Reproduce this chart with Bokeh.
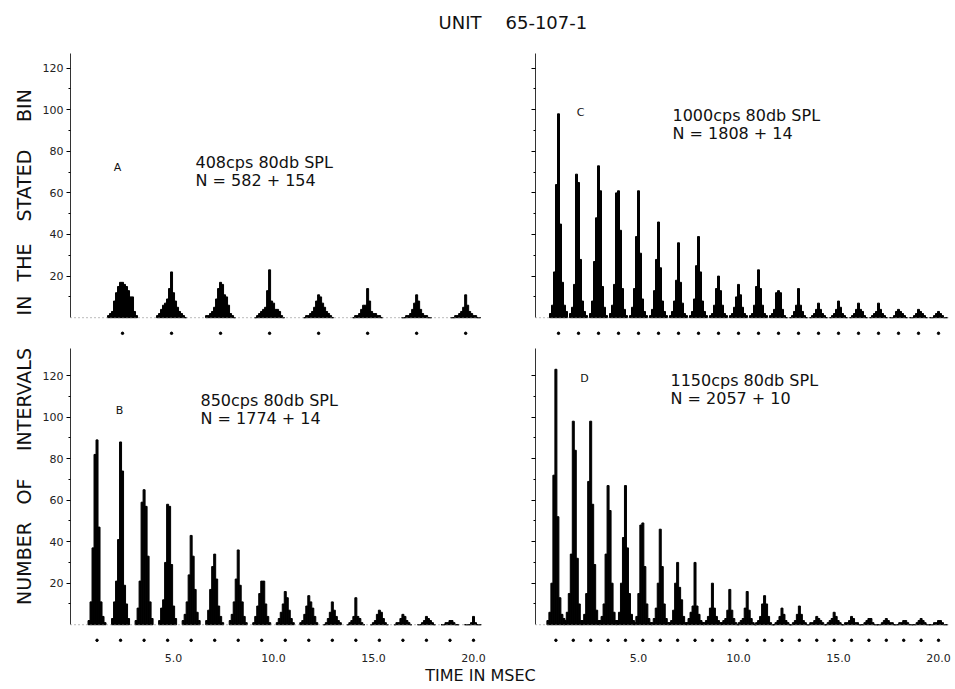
import math
from bokeh.plotting import figure
from bokeh.models import Range1d, FixedTicker, Span
from bokeh.layouts import column, row
from bokeh.embed import file_html
from bokeh.resources import INLINE
from bokeh.core.properties import value

FONT = "DejaVu Sans"

# ---------------- data ----------------
title_words = ["UNIT", "65-107-1"]
y_title_words = ["NUMBER", "OF", "INTERVALS", "IN", "THE", "STATED", "BIN"]
x_title = "TIME IN MSEC"

y_tick_values = [20, 40, 60, 80, 100, 120]
y_minor_values = [10, 30, 50, 70, 90, 110]
x_tick_values = [5, 10, 15, 20]
x_tick_labels = ["5.0", "10.0", "15.0", "20.0"]

bin_ms = 0.1  # histogram bin width (ms)

# Panel A : 408 cps
A_letter = "A"
A_freq = 408
A_line1 = "408cps  80db SPL"
A_line2 = "N = 582 + 154"
A_peaks = [
    [1, 2, 3, 8, 12, 15, 17, 17, 16, 15, 13, 10, 10, 3, 1],
    [1, 2, 4, 6, 7, 9, 14, 22, 12, 8, 5, 3, 2, 1, 0],
    [1, 1, 2, 3, 5, 9, 14, 17, 16, 11, 10, 6, 2, 1, 0],
    [0, 1, 2, 3, 4, 5, 13, 23, 8, 7, 4, 4, 3, 1, 0],
    [0, 1, 1, 2, 3, 5, 8, 11, 10, 7, 5, 3, 2, 1, 0],
    [0, 1, 1, 2, 4, 6, 6, 14, 8, 3, 2, 2, 1, 1, 0],
    [0, 0, 1, 1, 2, 4, 7, 11, 8, 4, 2, 1, 1, 0, 0],
    [0, 0, 1, 1, 2, 3, 5, 11, 6, 3, 2, 1, 1, 0, 0],
]

# Panel B : 850 cps
B_letter = "B"
B_freq = 850
B_line1 = "850cps  80db SPL"
B_line2 = "N = 1774 + 14"
B_peaks = [
    [2, 11, 37, 82, 89, 47, 11, 4, 1],
    [3, 11, 21, 41, 88, 74, 19, 10, 3],
    [2, 8, 21, 59, 65, 57, 33, 11, 3],
    [2, 8, 12, 30, 58, 57, 29, 9, 3],
    [2, 5, 11, 24, 43, 33, 17, 6, 2],
    [2, 7, 17, 28, 34, 22, 9, 4, 1],
    [2, 5, 11, 22, 36, 19, 11, 4, 1],
    [1, 4, 9, 15, 21, 21, 10, 4, 1],
    [1, 3, 6, 10, 16, 13, 7, 3, 1],
    [1, 2, 5, 9, 14, 11, 8, 4, 1],
    [0, 1, 3, 6, 11, 7, 4, 2, 1],
    [0, 1, 2, 4, 13, 4, 3, 1, 0],
    [0, 1, 2, 5, 7, 6, 3, 1, 0],
    [0, 1, 1, 3, 5, 4, 2, 1, 0],
    [0, 0, 1, 2, 4, 3, 2, 1, 0],
    [0, 0, 1, 1, 2, 2, 1, 0, 0],
    [0, 0, 0, 1, 4, 1, 0, 0, 0],
]

# Panel C : 1000 cps
C_letter = "C"
C_freq = 1000
C_line1 = "1000cps  80db SPL"
C_line2 = "N = 1808 + 14"
C_peaks = [
    [2, 6, 22, 64, 98, 45, 17, 6, 3],
    [2, 5, 16, 69, 65, 28, 8, 3, 1],
    [2, 8, 27, 48, 73, 61, 15, 5, 1],
    [2, 6, 16, 60, 61, 42, 14, 4, 1],
    [1, 5, 14, 39, 61, 31, 9, 3, 1],
    [1, 4, 13, 28, 46, 24, 8, 3, 1],
    [1, 3, 8, 18, 36, 17, 7, 2, 1],
    [1, 3, 9, 25, 39, 22, 8, 3, 1],
    [1, 2, 6, 14, 20, 13, 6, 2, 1],
    [1, 2, 5, 10, 16, 11, 5, 2, 1],
    [1, 2, 6, 15, 23, 14, 6, 2, 1],
    [1, 2, 4, 12, 13, 12, 4, 1, 0],
    [0, 1, 3, 6, 14, 6, 3, 1, 0],
    [0, 1, 2, 4, 7, 4, 2, 1, 0],
    [0, 1, 2, 4, 8, 5, 2, 1, 0],
    [0, 1, 2, 4, 7, 4, 3, 1, 0],
    [0, 1, 2, 3, 7, 4, 2, 1, 0],
    [0, 0, 1, 3, 4, 3, 2, 1, 0],
    [0, 0, 1, 2, 4, 3, 2, 1, 0],
    [0, 0, 1, 2, 3, 2, 1, 0, 0],
]

# Panel D : 1150 cps
D_letter = "D"
D_freq = 1150
D_line1 = "1150cps 80db SPL"
D_line2 = "N = 2057 + 10"
D_peaks = [
    [2, 6, 20, 72, 123, 52, 13, 5, 3],
    [2, 6, 15, 34, 98, 84, 32, 10, 2],
    [2, 5, 15, 69, 98, 58, 29, 7, 2],
    [2, 4, 10, 34, 67, 55, 20, 6, 2],
    [2, 6, 20, 42, 67, 37, 15, 5, 2],
    [1, 4, 15, 48, 49, 28, 10, 3, 1],
    [1, 3, 8, 20, 46, 28, 10, 3, 1],
    [1, 2, 7, 20, 30, 18, 12, 4, 1],
    [1, 3, 6, 9, 30, 9, 5, 2, 1],
    [1, 2, 4, 8, 20, 8, 4, 2, 1],
    [1, 2, 3, 7, 17, 7, 3, 1, 0],
    [1, 2, 3, 8, 16, 7, 3, 1, 0],
    [1, 2, 4, 10, 14, 10, 4, 1, 0],
    [0, 1, 2, 4, 8, 5, 2, 1, 0],
    [0, 1, 2, 5, 9, 5, 2, 1, 0],
    [0, 1, 1, 2, 4, 3, 2, 1, 0],
    [0, 1, 2, 3, 6, 4, 2, 1, 0],
    [0, 1, 1, 2, 4, 3, 1, 1, 0],
    [0, 0, 1, 2, 3, 3, 1, 0, 0],
    [0, 0, 1, 2, 3, 2, 1, 1, 0],
    [0, 0, 1, 1, 2, 2, 1, 0, 0],
    [0, 0, 1, 2, 3, 2, 1, 0, 0],
    [0, 0, 1, 1, 2, 2, 1, 0, 0],
]


def clean(p):
    p.toolbar_location = None
    p.outline_line_color = None
    p.xgrid.visible = False
    p.ygrid.visible = False
    p.background_fill_color = "white"
    p.border_fill_color = "white"


def make_panel(width, height, xr, yr, borders, peaks, freq, letter, line1, line2,
               letter_xy, text_xy, ylabels, xlabels):
    p = figure(width=width, height=height, x_range=Range1d(*xr), y_range=Range1d(*yr),
               output_backend="svg", toolbar_location=None,
               min_border_left=borders[0], min_border_right=borders[1],
               min_border_top=borders[2], min_border_bottom=borders[3])
    clean(p)
    period = 1000.0 / freq
    xs, tops = [], []
    for n, cluster in enumerate(peaks, start=1):
        m = len(cluster)
        for k, c in enumerate(cluster):
            xs.append(n * period + (k - (m - 1) / 2.0) * bin_ms)
            tops.append(c)
    p.add_layout(Span(location=0, dimension="width", line_color="#777777",
                      line_width=1, line_dash="1 3"))
    p.vbar(x=xs, top=tops, bottom=0, width=bin_ms, fill_color="black",
           line_color="black", line_width=1)
    dots_x = [n * period for n in range(1, len(peaks) + 1)]
    p.scatter(x=dots_x, y=[-7.5] * len(dots_x), size=2.5, color="black")

    ya = p.yaxis[0]
    ya.ticker = FixedTicker(ticks=y_tick_values, minor_ticks=y_minor_values)
    ya.bounds = (0, yr[1])
    ya.axis_line_color = "#333333"
    ya.axis_line_width = 1
    ya.major_tick_out = 4
    ya.major_tick_in = 0
    ya.minor_tick_out = 2
    ya.minor_tick_in = 0
    ya.major_label_standoff = 3
    ya.major_label_text_font = FONT
    ya.major_label_text_font_size = "11px"
    ya.major_label_text_color = "#222222"
    if not ylabels:
        ya.major_label_overrides = {v: "" for v in y_tick_values}

    xa = p.xaxis[0]
    if xlabels:
        xa.ticker = FixedTicker(ticks=x_tick_values, minor_ticks=[])
        xa.major_label_overrides = dict(zip(x_tick_values, x_tick_labels))
        xa.axis_line_color = None
        xa.major_tick_line_color = None
        xa.minor_tick_line_color = None
        xa.major_label_standoff = 2
        xa.major_label_text_font = FONT
        xa.major_label_text_font_size = "11px"
        xa.major_label_text_color = "#222222"
    else:
        xa.visible = False

    p.text(x=[letter_xy[0]], y=[letter_xy[1]], text=[letter], text_font=value(FONT),
           text_font_size="11px", text_align="center", text_baseline="middle",
           text_color="#111111")
    p.text(x=[text_xy[0], text_xy[0]], y=[text_xy[1], text_xy[2]], text=[line1, line2],
           text_font=value(FONT), text_font_size="16px", text_align="left",
           text_baseline="middle", text_color="#111111")
    return p


LEFT_XR = (-0.15, 20.4)
RIGHT_XR = (-0.15, 20.5)
TOP_YR = (-10, 127)
BOT_YR = (-10, 133)

# page columns: y-title strip 0..38 | left panels 38..515 | right panels 515..954
pA = make_panel(477, 304, LEFT_XR, TOP_YR, (32, 34, 15, 4), A_peaks, A_freq, A_letter,
                A_line1, A_line2, (2.2, 72.3), (6.1, 74.7, 65.8), True, False)
pC = make_panel(439, 304, RIGHT_XR, TOP_YR, (20, 6, 15, 4), C_peaks, C_freq, C_letter,
                C_line1, C_line2, (2.1, 98.7), (6.7, 97.3, 88.6), False, False)
pB = make_panel(477, 322, LEFT_XR, BOT_YR, (32, 34, 6, 18), B_peaks, B_freq, B_letter,
                B_line1, B_line2, (2.3, 103.2), (6.35, 108.0, 99.4), True, True)
pD = make_panel(439, 322, RIGHT_XR, BOT_YR, (20, 6, 6, 18), D_peaks, D_freq, D_letter,
                D_line1, D_line2, (2.3, 118.6), (6.6, 117.6, 109.0), False, True)


def strip(width, height, x0):
    p = figure(width=width, height=height, x_range=Range1d(x0, x0 + width),
               y_range=Range1d(0, height), output_backend="svg", toolbar_location=None,
               min_border=0, min_border_left=0, min_border_right=0,
               min_border_top=0, min_border_bottom=0)
    clean(p)
    p.xaxis.visible = False
    p.yaxis.visible = False
    return p

# title strip: page x 38..954, page y 0..38
pt = strip(916, 38, 38)
pt.text(x=[438, 505], y=[38 - 22, 38 - 22], text=title_words, text_font=value(FONT),
        text_font_size="18px", text_align="left", text_baseline="middle",
        text_color="#111111")

# x title strip: page y 664..688
px = strip(916, 24, 38)
px.text(x=[480], y=[688 - 675], text=[x_title], text_font=value(FONT),
        text_font_size="16px", text_align="center", text_baseline="middle",
        text_color="#111111")

# y title strip: page x 0..38, page y 0..688
py = strip(38, 688, 0)
word_centers = [563, 491, 399, 305, 262, 185, 105]
py.text(x=[23.5] * len(y_title_words), y=[688 - c for c in word_centers],
        text=y_title_words, text_font=value(FONT), text_font_size="19px",
        text_align="center", text_baseline="middle", angle=math.pi / 2,
        text_color="#111111")

layout = row(py, column(pt, row(pA, pC), row(pB, pD), px))

open("out.html", "w").write(file_html(layout, INLINE))
